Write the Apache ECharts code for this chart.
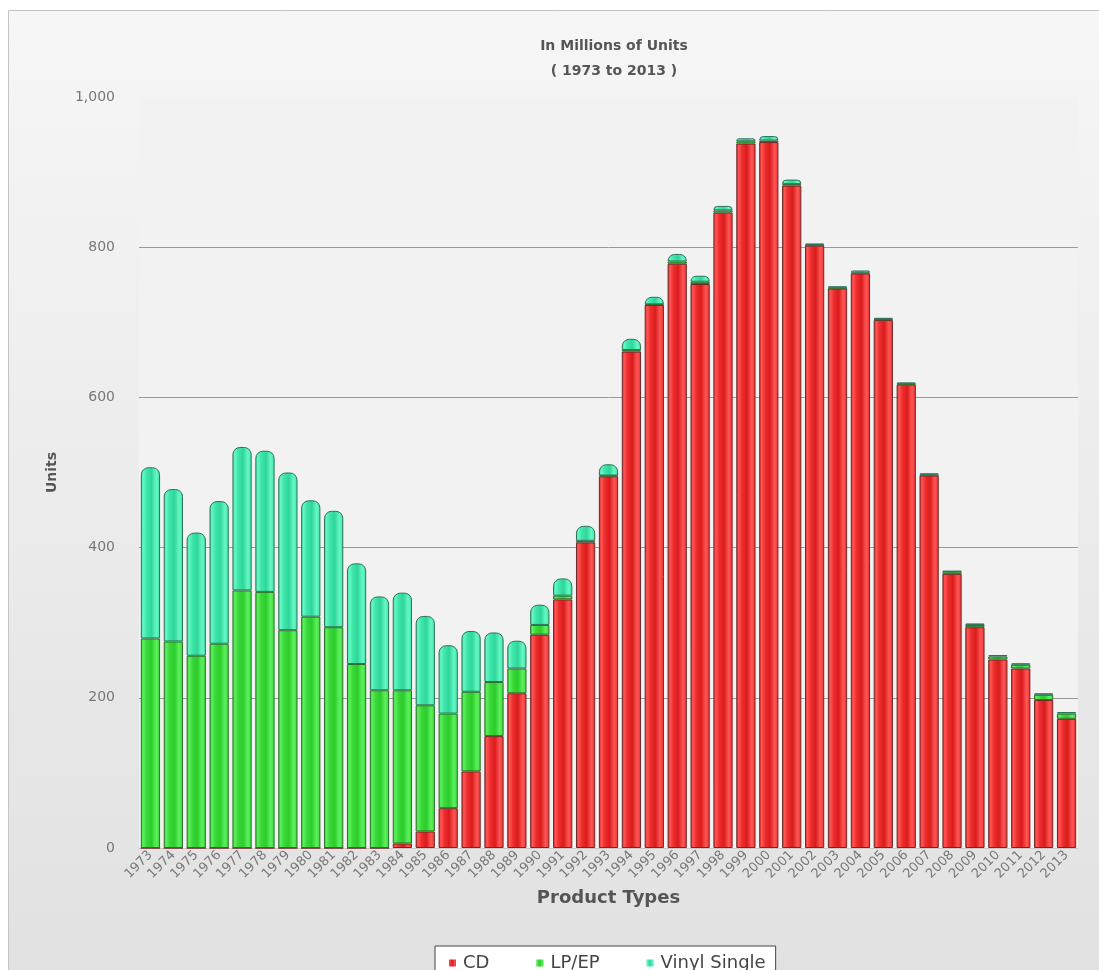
<!DOCTYPE html>
<html>
<head>
<meta charset="utf-8">
<title>Units</title>
<script src="https://cdn.jsdelivr.net/npm/echarts@6/dist/echarts.min.js"></script>
<style>
  html, body { margin: 0; padding: 0; background: #fff; }
  #main { width: 1099px; height: 970px; }
</style>
</head>
<body>
<div id="main"></div>
<script>
// years on the x axis
var years = ['1973','1974','1975','1976','1977','1978','1979','1980','1981','1982',
  '1983','1984','1985','1986','1987','1988','1989','1990','1991','1992',
  '1993','1994','1995','1996','1997','1998','1999','2000','2001','2002',
  '2003','2004','2005','2006','2007','2008','2009','2010','2011','2012','2013'];

// millions of units
var cd = [0,0,0,0,0,0,0,0,0,0,
  0,6,22,53,102,149,206,284,331,407,
  495,661,723,778,751,846,938,940,882,802,
  745,765,703,617,496,365,294,251,239,197,172];
var lpEp = [279,275,256,272,343,341,290,308,294,245,
  210,204,168,126,106,72,33,13,5,2,
  1,2,1,3,3,3,3,2,2,1,
  1,1,1,1,1,3,3,4,5,7,7];
var vinylSingle = [228,203,164,190,191,188,210,155,155,134,
  125,130,119,91,81,66,37,27,23,20,
  15,15,10,10,8,6,4,6,6,2,
  2,3,2,2,2,1,2,2,2,2,2];

var yTicks = [0, 200, 400, 600, 800, 1000];

var FONT = 'DejaVu Sans, Verdana, sans-serif';

function barFill(dark, mid, light) {
  return new echarts.graphic.LinearGradient(0, 0, 1, 0, [
    { offset: 0, color: dark },
    { offset: 0.12, color: light },
    { offset: 0.3, color: mid },
    { offset: 0.55, color: dark },
    { offset: 0.8, color: light },
    { offset: 1, color: mid }
  ]);
}

var chart = echarts.init(document.getElementById('main'));

chart.setOption({
  backgroundColor: '#ffffff',
  animation: false,
  graphic: {
    elements: [{
      type: 'rect',
      z: -10,
      silent: true,
      shape: { x: 8.5, y: 10.5, width: 1100, height: 970 },
      style: {
        fill: new echarts.graphic.LinearGradient(0, 0, 0, 1, [
          { offset: 0, color: '#f6f6f6' },
          { offset: 1, color: '#e1e1e1' }
        ]),
        stroke: '#c4c4c4',
        lineWidth: 1
      }
    }]
  },
  title: {
    text: 'In Millions of Units\n( 1973 to 2013 )',
    left: 609,
    top: 29,
    textAlign: 'center',
    textStyle: {
      fontFamily: FONT,
      fontSize: 14,
      fontWeight: 'bold',
      color: '#555',
      lineHeight: 25
    }
  },
  legend: {
    data: ['CD', 'LP/EP', 'Vinyl Single'],
    left: 435,
    top: 946,
    icon: 'rect',
    itemWidth: 7,
    itemHeight: 7,
    itemGap: 47,
    padding: [8, 10, 8, 14],
    backgroundColor: '#ffffff',
    borderColor: '#444',
    borderWidth: 1,
    borderRadius: 0,
    itemStyle: { borderWidth: 0 },
    textStyle: { fontFamily: FONT, fontSize: 18, color: '#444', padding: [0, 0, 0, 2] }
  },
  grid: {
    left: 139,
    right: 21,
    top: 97,
    bottom: 122,
    show: true,
    backgroundColor: '#f2f2f2',
    borderWidth: 0
  },
  xAxis: {
    type: 'category',
    data: years,
    name: 'Product Types',
    nameLocation: 'middle',
    nameGap: 41,
    nameTextStyle: { fontFamily: FONT, fontSize: 18, fontWeight: 'bold', color: '#555' },
    axisLine: { show: true, lineStyle: { color: '#c8c8c8' } },
    axisTick: { show: false },
    axisLabel: {
      interval: 0,
      rotate: 45,
      margin: 5,
      fontFamily: FONT,
      fontSize: 13,
      color: '#777'
    }
  },
  yAxis: {
    type: 'value',
    min: yTicks[0],
    max: yTicks[yTicks.length - 1],
    interval: 200,
    name: 'Units',
    nameLocation: 'middle',
    nameGap: 80,
    nameRotate: 90,
    nameTextStyle: { fontFamily: FONT, fontSize: 14, fontWeight: 'bold', color: '#555' },
    axisLine: { show: false },
    axisTick: { show: false },
    axisLabel: {
      margin: 24,
      fontFamily: FONT,
      fontSize: 14,
      color: '#777',
      formatter: function (v) { return v.toLocaleString('en-US'); }
    },
    splitLine: {
      show: true,
      showMinLine: false,
      showMaxLine: false,
      lineStyle: { color: '#999', width: 1 }
    }
  },
  series: [{
    name: 'CD',
    type: 'bar',
    stack: 'units',
    barCategoryGap: '16%',
    data: cd,
    itemStyle: {
      color: barFill('#d91c1c', '#ee2e2e', '#ff5656'),
      borderColor: '#6e2a2a',
      borderWidth: 1
    }
  }, {
    name: 'LP/EP',
    type: 'bar',
    stack: 'units',
    data: lpEp,
    itemStyle: {
      color: barFill('#2ccc2c', '#3ad83a', '#5cf05c'),
      borderColor: '#2e6e2e',
      borderWidth: 1
    }
  }, {
    name: 'Vinyl Single',
    type: 'bar',
    stack: 'units',
    data: vinylSingle,
    itemStyle: {
      color: barFill('#2fd69a', '#3ee6aa', '#66f7c4'),
      borderColor: '#2e7258',
      borderWidth: 1,
      borderRadius: [7, 7, 0, 0]
    }
  }]
});
</script>
</body>
</html>
